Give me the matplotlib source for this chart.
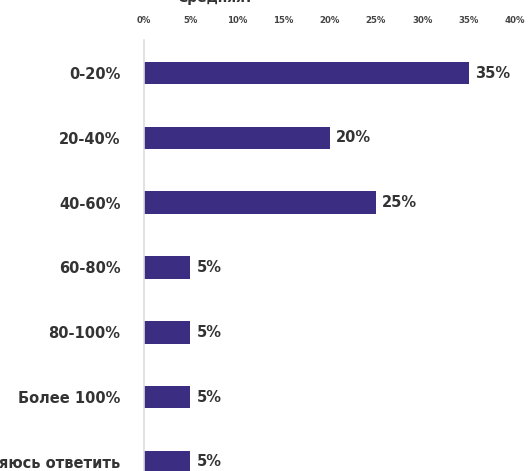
import matplotlib.pyplot as plt

categories = ["0-20%", "20-40%", "40-60%", "60-80%", "80-100%", "Более 100%", "Затрудняюсь ответить"]
values = [35, 20, 25, 5, 5, 5, 5]
xticks = [0, 5, 10, 15, 20, 25, 30, 35, 40]

plt.rcParams["font.family"] = ["DejaVu Sans"]

fig = plt.figure(figsize=(5.28, 4.71), dpi=100)
ax = fig.add_axes([144 / 528, 0.0, (515 - 144) / 528, 1 - 40 / 471])

ypos = list(range(len(categories)))
ax.barh(ypos, values, height=0.35, color="#3a2d82")

for y, v in zip(ypos, values):
    ax.text(v + 0.65, y, f"{v}%", va="center", ha="left", fontsize=10.5,
            fontweight="bold", color="#333333")

ax.set_xlim(0, 40)
ax.set_ylim(6.14, -0.51)
ax.set_yticks(ypos)
ax.set_yticklabels(categories, fontsize=10.5, fontweight="bold", color="#333333")
ax.set_xticks(xticks)
ax.set_xticklabels([f"{t}%" for t in xticks], fontsize=6.2, fontweight="bold", color="#444444")
ax.xaxis.tick_top()
ax.tick_params(axis="x", length=0, pad=10.5)
ax.tick_params(axis="y", length=0, pad=17)

for s in ["top", "right", "bottom"]:
    ax.spines[s].set_visible(False)
ax.spines["left"].set_color("#dddddd")
ax.spines["left"].set_linewidth(1.2)

fig.text(215 / 528, 1.0 + 2 / 471, "Средняя?", ha="center", va="center", fontsize=10,
         fontweight="bold", color="#333333")

fig.savefig("out.png", dpi=100)
